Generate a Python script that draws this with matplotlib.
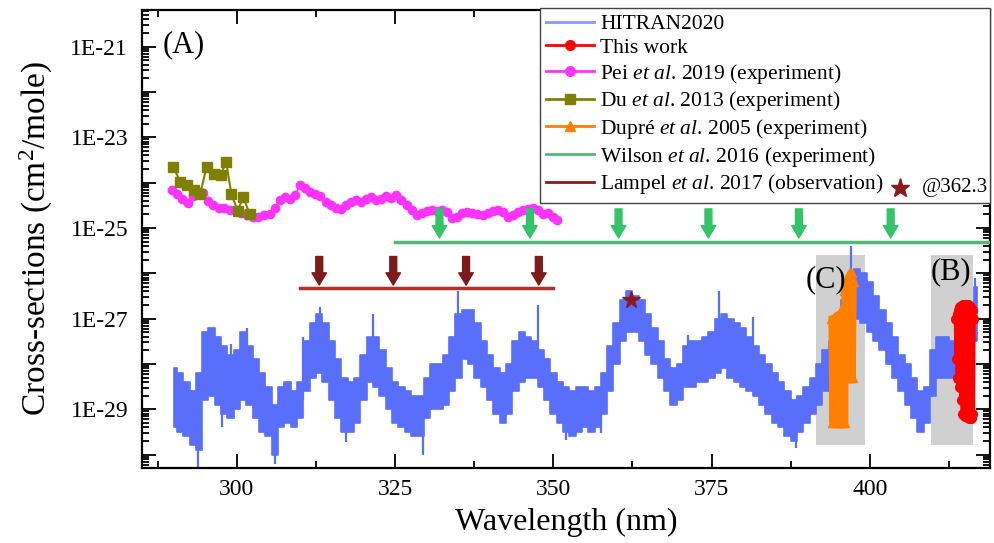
import numpy as np
import matplotlib
matplotlib.use('Agg')
import matplotlib.pyplot as plt
from matplotlib.lines import Line2D
from matplotlib.ticker import LogLocator, MultipleLocator, FuncFormatter, NullFormatter

plt.rcParams['font.family'] = ['Liberation Serif', 'DejaVu Serif']
plt.rcParams['mathtext.fontset'] = 'custom'
plt.rcParams['mathtext.rm'] = 'Liberation Serif'
plt.rcParams['mathtext.it'] = 'Liberation Serif:italic'

# ---- data (log10 of cross-section) ----
hitran_nm = np.arange(290, 418)
hitran_up = [-28.1, -28.2, -28.4, -28.6, -28.2, -27.3, -27.2, -27.4, -27.6, -27.8,
             -27.7, -27.3, -27.6, -27.9, -28.2, -28.5, -28.9, -28.5, -28.4, -28.6,
             -28.4, -27.5, -27.1, -26.9, -27.1, -27.5, -27.9, -28.3, -28.4, -28.3,
             -27.8, -27.4, -27.4, -27.7, -28.1, -28.4, -28.5, -28.6, -28.7, -28.7,
             -28.3, -28.0, -28.0, -27.8, -27.4, -26.9, -26.8, -26.8, -27.1, -27.5,
             -27.8, -28.1, -28.2, -28.0, -27.5, -27.3, -27.4, -27.5, -27.7, -27.9,
             -28.2, -28.4, -28.5, -28.6, -28.5, -28.5, -28.6, -28.5, -28.2, -27.6,
             -27.1, -26.6, -26.4, -26.5, -26.6, -26.9, -27.2, -27.5, -27.9, -28.1,
             -28.0, -27.6, -27.5, -27.5, -27.4, -27.3, -27.0, -26.9, -27.0, -27.1,
             -27.2, -27.4, -27.6, -27.8, -28.0, -28.2, -28.4, -28.6, -28.8, -28.7,
             -28.5, -28.3, -28.0, -27.7, -27.5, -27.0, -26.6, -26.0, -25.9, -26.0,
             -26.2, -26.5, -26.8, -27.1, -27.4, -27.8, -28.0, -28.3, -28.6, -28.5,
             -27.7, -27.4, -27.4, -27.5, -27.5, -27.4, -27.2, -26.3]
hitran_lo = [-29.4, -29.5, -29.6, -29.8, -29.9, -28.8, -28.7, -28.9, -29.1, -29.2,
             -29.0, -28.8, -28.9, -29.2, -29.5, -29.6, -30.0, -29.4, -29.3, -29.4,
             -29.2, -28.6, -28.3, -28.2, -28.4, -28.8, -29.2, -29.5, -29.5, -29.3,
             -28.8, -28.4, -28.5, -28.7, -29.0, -29.3, -29.4, -29.5, -29.6, -29.6,
             -29.2, -29.0, -29.0, -28.9, -28.6, -28.3, -27.9, -28.0, -28.3, -28.5,
             -28.8, -29.1, -29.3, -29.1, -28.6, -28.4, -28.3, -28.3, -28.5, -28.8,
             -29.1, -29.3, -29.5, -29.6, -29.5, -29.4, -29.5, -29.4, -29.1, -28.6,
             -28.0, -27.5, -27.3, -27.3, -27.5, -27.8, -28.0, -28.3, -28.6, -28.9,
             -28.8, -28.5, -28.5, -28.4, -28.4, -28.3, -28.2, -28.1, -28.3, -28.4,
             -28.5, -28.6, -28.7, -28.9, -29.1, -29.3, -29.4, -29.6, -29.7, -29.5,
             -29.3, -29.1, -28.9, -28.6, -28.4, -28.0, -27.6, -27.2, -27.0, -27.1,
             -27.3, -27.5, -27.7, -28.0, -28.3, -28.6, -28.9, -29.2, -29.5, -29.3,
             -28.7, -28.3, -28.3, -28.3, -28.4, -28.3, -28.3, -27.5]
# narrow spikes sticking out of the band
spike_nm = [293.9, 297.6, 299.0, 301.6, 306.0, 310.5, 313.1, 317.3, 321.5, 329.4, 335.0,
            347.5, 352.0, 357.6, 371.2, 376.2, 381.5, 388.3, 397.0, 416.6]
spike_from = [-29.0, -28.5, -28.4, -28.0, -29.4, -28.8, -27.5, -29.0, -27.8, -29.2, -27.5,
              -27.8, -29.0, -29.0, -28.0, -27.5, -27.8, -29.2, -26.5, -27.0]
spike_to = [-30.3, -29.4, -27.55, -27.2, -30.2, -27.4, -26.75, -29.72, -26.9, -30.0, -26.4,
            -26.7, -29.68, -29.53, -27.36, -26.4, -26.97, -29.85, -25.4, -26.1]

this_work_nm = [413.7, 413.8, 413.9, 414.0, 414.1, 414.2, 414.3, 414.4, 414.5, 414.6,
                414.7, 414.8, 414.9, 415.0, 415.1, 415.2, 415.3, 415.4, 415.5, 415.6,
                415.7, 415.8, 415.9, 416.0, 416.1, 416.2, 416.3]
this_work_log = [-27.0, -27.9, -26.9, -28.3, -26.8, -28.5, -26.75, -28.5, -26.72, -28.8,
                 -26.7, -29.1, -26.7, -29.15, -26.7, -29.15, -26.7, -29.15, -26.7, -29.2,
                 -26.72, -29.2, -26.75, -29.2, -26.8, -29.1, -27.0]

pei_nm = [289.7, 290.5, 291.3, 292.2, 293.0, 293.8, 294.6, 295.4, 296.2, 297.1, 298.0, 298.9,
          299.8, 300.7, 301.6, 302.5, 303.4, 304.3, 305.2, 306.0, 306.8, 307.6, 308.4, 309.2,
          310.0, 310.8, 311.6, 312.4, 313.2, 314.0, 314.8, 315.6, 316.4, 317.2, 318.0, 318.8,
          319.6, 320.4, 321.2, 322.0, 322.8, 323.6, 324.4, 325.2, 326.0, 326.8, 327.6, 328.4,
          329.2, 330.0, 330.8, 331.6, 332.4, 333.2, 334.0, 334.8, 335.6, 336.4, 337.2, 338.0,
          338.8, 339.6, 340.4, 341.2, 342.0, 342.8, 343.6, 344.4, 345.2, 346.0, 346.8, 347.6,
          348.4, 349.2, 350.0, 350.5]
pei_log = [-24.16, -24.25, -24.35, -24.45, -24.3, -24.2, -24.22, -24.4, -24.5, -24.55, -24.55, -24.6,
           -24.6, -24.68, -24.72, -24.75, -24.75, -24.72, -24.7, -24.55, -24.38, -24.32, -24.35, -24.28,
           -24.05, -24.12, -24.2, -24.25, -24.3, -24.42, -24.5, -24.55, -24.58, -24.5, -24.42, -24.38,
           -24.42, -24.36, -24.32, -24.38, -24.36, -24.3, -24.33, -24.28, -24.38, -24.5, -24.6, -24.72,
           -24.68, -24.62, -24.6, -24.62, -24.6, -24.65, -24.78, -24.75, -24.68, -24.65, -24.68, -24.7,
           -24.72, -24.68, -24.62, -24.6, -24.65, -24.75, -24.72, -24.65, -24.6, -24.58, -24.55, -24.6,
           -24.7, -24.68, -24.75, -24.82]

du_nm = [289.9, 291.06, 292.1, 293.2, 294.2, 295.2, 296.3, 297.4, 298.3, 299.1, 300.1, 301.0, 302.0]
du_log = [-23.65, -23.98, -24.05, -24.16, -24.24, -23.65, -23.8, -23.83, -23.55, -24.24, -24.62, -24.32, -24.69]

dupre_nm = [393.9, 394.05, 394.2, 394.35, 394.5, 394.65, 394.8, 394.95, 395.1, 395.25, 395.4,
            395.55, 395.7, 395.85, 396.0, 396.15, 396.3, 396.45, 396.6, 396.75, 396.9, 397.05,
            397.2, 397.35, 397.5]
dupre_log = [-27.0, -29.3, -26.98, -29.3, -26.95, -29.3, -26.92, -29.3, -26.9, -29.3, -26.85,
             -29.3, -26.75, -29.3, -26.4, -29.3, -26.15, -28.3, -26.05, -28.3, -25.97, -28.3,
             -26.0, -28.3, -26.2]

wilson_nm = [325.0, 420.0]
wilson_log = -25.3
wilson_arrow_nm = [332.0, 346.3, 360.3, 374.5, 388.8, 403.3]
lampel_nm = [310.0, 350.0]
lampel_log = -26.33
lampel_arrow_nm = [313.0, 324.7, 336.2, 347.7]
lampel_star = (362.3, -26.58)

box_c = (391.5, 399.2, -29.8, -25.6)
box_b = (409.7, 416.3, -29.8, -25.6)

fig = plt.figure(figsize=(9.94, 5.43), dpi=100)
ax = fig.add_axes([0.1429, 0.1387, 0.8531, 0.8429])
ax.set_yscale('log')

# shaded regions
for x0, x1, y0, y1 in [box_c, box_b]:
    ax.fill_between([x0, x1], 10 ** y0, 10 ** y1, color='#d0d0d0', lw=0, zorder=0)

# HITRAN band (stepped so the edges look like a noisy spectrum)
blue = '#5a6efc'
ax.fill_between(hitran_nm, 10 ** np.array(hitran_up), 10 ** np.array(hitran_lo), step='mid',
                color=blue, lw=1.2, edgecolor=blue, zorder=2)
ax.vlines(spike_nm, 10 ** np.array(spike_from), 10 ** np.array(spike_to), color=blue, lw=1.6, zorder=2)

ax.plot(dupre_nm, 10 ** np.array(dupre_log), '-^', color='#ff8000', lw=4, ms=6, zorder=3)
ax.plot(this_work_nm, 10 ** np.array(this_work_log), '-o', color='#ff0000', lw=4, ms=7, zorder=3)
ax.plot(pei_nm, 10 ** np.array(pei_log), '-o', color='#ff33ff', lw=1.2, ms=6, zorder=3)
ax.plot(du_nm, 10 ** np.array(du_log), '-s', color='#808000', lw=1.5, ms=7.5, zorder=4)

# Wilson and Lampel
green = '#55b878'
dred = '#b03030'
ax.plot(wilson_nm, [10 ** wilson_log] * 2, color=green, lw=2.5, zorder=3)
ax.plot(lampel_nm, [10 ** lampel_log] * 2, color=dred, lw=2.5, zorder=3)
for x in wilson_arrow_nm:
    ax.annotate('', xy=(x, 10 ** (wilson_log + 0.08)), xytext=(x, 10 ** (wilson_log + 0.72)),
                arrowprops=dict(arrowstyle='simple,head_length=0.8,head_width=0.95,tail_width=0.45',
                                color='#33c46a', mutation_scale=11, shrinkA=0, shrinkB=0), zorder=4)
for x in lampel_arrow_nm:
    ax.annotate('', xy=(x, 10 ** (lampel_log + 0.07)), xytext=(x, 10 ** (lampel_log + 0.7)),
                arrowprops=dict(arrowstyle='simple,head_length=0.8,head_width=0.95,tail_width=0.45',
                                color='#7d1a1a', mutation_scale=11, shrinkA=0, shrinkB=0), zorder=4)
ax.plot(lampel_star[0], 10 ** lampel_star[1], '*', color='#8b1a1a', ms=13, zorder=5)

ax.text(291.6, 10 ** -20.96, '(A)', fontsize=22, ha='center', va='center')
ax.text(393.0, 10 ** -26.15, '(C)', fontsize=22, ha='center', va='center', zorder=5)
ax.text(412.8, 10 ** -25.96, '(B)', fontsize=22, ha='center', va='center', zorder=5)

ax.set_xlim(285, 419)
ax.set_ylim(10 ** -30.29, 10 ** -20.19)
ax.xaxis.set_major_locator(MultipleLocator(25))
ax.xaxis.set_minor_locator(MultipleLocator(12.5))
ax.yaxis.set_major_locator(LogLocator(base=10, numticks=30))
ax.yaxis.set_minor_locator(LogLocator(base=10, subs=np.arange(2, 10), numticks=30))
ax.yaxis.set_minor_formatter(NullFormatter())


def fmt(v, pos):
    e = int(round(np.log10(v)))
    return '1E%d' % e if e % 2 != 0 else ''


ax.yaxis.set_major_formatter(FuncFormatter(fmt))
ax.tick_params(which='both', direction='in', top=True, right=True, labelsize=17, width=1.3)
ax.tick_params(which='major', length=10)
ax.tick_params(which='minor', length=5)
ax.tick_params(axis='y', pad=10)
ax.tick_params(axis='x', pad=8)
for s in ax.spines.values():
    s.set_linewidth(1.6)

ax.set_xlabel('Wavelength (nm)', fontsize=23, labelpad=6)
ax.set_ylabel('Cross-sections (cm$^2$/mole)', fontsize=24, labelpad=11)

handles = [
    Line2D([], [], color='#8c98ff', lw=2),
    Line2D([], [], color='#ff0000', lw=2, marker='o', ms=7),
    Line2D([], [], color='#ff33ff', lw=2, marker='o', ms=7),
    Line2D([], [], color='#808000', lw=2, marker='s', ms=7),
    Line2D([], [], color='#ff8000', lw=2, marker='^', ms=7),
    Line2D([], [], color=green, lw=2),
    Line2D([], [], color='#8b1a1a', lw=2),
]
labels = [
    'HITRAN2020',
    'This work',
    r'Pei $\mathit{et\ al}$. 2019 (experiment)',
    r'Du $\mathit{et\ al}$. 2013 (experiment)',
    r'Dupré $\mathit{et\ al}$. 2005 (experiment)',
    r'Wilson $\mathit{et\ al}$. 2016 (experiment)',
    r'Lampel $\mathit{et\ al}$. 2017 (observation)',
]
leg = ax.legend(handles, labels, loc='upper left', bbox_to_anchor=(0.469, 0.0, 0.531, 1.005),
                mode='expand', fontsize=15.5,
                frameon=True, fancybox=False, framealpha=1, edgecolor='#444444',
                handlelength=2.2, handletextpad=0.3, labelspacing=0.17, borderpad=0.3,
                borderaxespad=0, numpoints=1)
leg.get_frame().set_linewidth(1.0)
leg.set_zorder(6)
ax.plot([0.894], [0.612], '*', color='#8b1a1a', ms=14, transform=ax.transAxes, clip_on=False, zorder=7)
ax.text(0.92, 0.612, '@362.3', fontsize=15, transform=ax.transAxes, va='center', ha='left', zorder=7)

fig.savefig('out.png', dpi=100)
